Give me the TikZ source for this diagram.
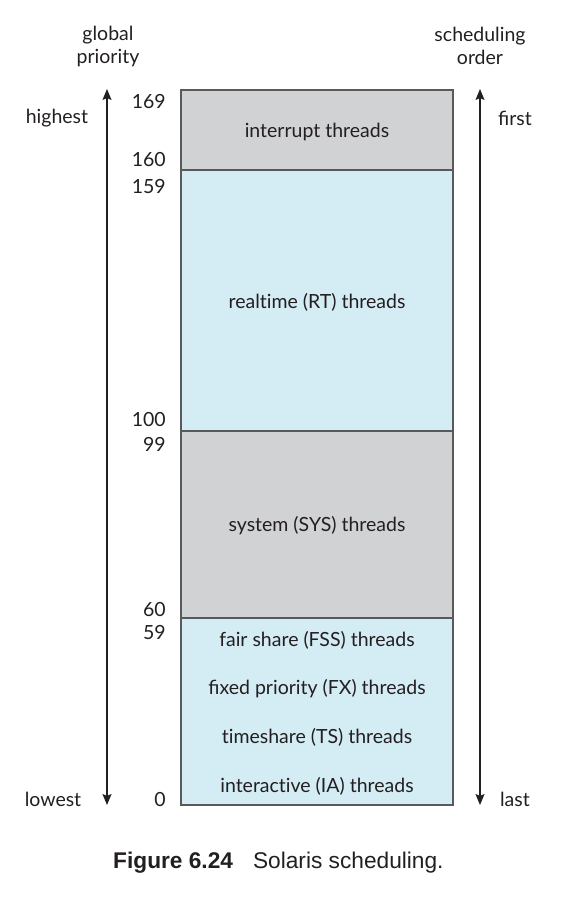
\documentclass[tikz,border=0pt]{standalone}
\usepackage{fontspec}
\setmainfont{Lato}[Ligatures=NoCommon]
\newfontfamily\capfont{Liberation Sans}
\usetikzlibrary{arrows.meta}
\definecolor{grayfill}{HTML}{D1D2D4}
\definecolor{bluefill}{HTML}{D4ECF3}
\definecolor{edge}{HTML}{58595B}
\definecolor{txt}{HTML}{231F20}
\tikzset{
  lbl/.style={font=\fontsize{19.5}{23}\selectfont, text=txt, inner sep=0pt},
  num/.style={lbl, anchor=east},
  band/.style={draw=edge, line width=1.4pt},
  tip/.tip={Stealth[length=11pt,width=9pt,inset=2pt]},
  axis/.style={draw=txt, line width=1.3pt, tip-tip}
}
\begin{document}
\begin{tikzpicture}[x=1pt,y=-1pt]
\useasboundingbox (0,0) rectangle (574,901);
% bands
\draw[band, fill=grayfill] (181,90) rectangle (453,170);
\draw[band, fill=bluefill] (181,170) rectangle (453,431);
\draw[band, fill=grayfill] (181,431) rectangle (453,618);
\draw[band, fill=bluefill] (181,618) rectangle (453,805);
% band labels
\node[lbl] (int) at (317,132) {interrupt threads};
\node[lbl] (rt) at (317,302) {realtime (RT) threads};
\node[lbl] (sys) at (317,526) {system (SYS) threads};
\node[lbl] (fss) at (317,640) {fair share (FSS) threads};
\node[lbl] (fx) at (317,689) {ﬁxed priority (FX) threads};
\node[lbl] (ts) at (317,737) {timeshare (TS) threads};
\node[lbl] (ia) at (317,786) {interactive (IA) threads};
% numbers
\node[num] (n169) at (166,102) {169};
\node[num] (n160) at (166,160) {160};
\node[num] (n159) at (166,187) {159};
\node[num] (n100) at (166,420) {100};
\node[num] (n99) at (166,444) {99};
\node[num] (n60) at (166,610) {60};
\node[num] (n59) at (166,633) {59};
\node[num] (n0) at (166,799) {0};
% headings
\node[lbl, align=center] (gp) at (108,46) {global\\priority};
\node[lbl, align=center] (so) at (480,46) {scheduling\\order};
\node[lbl] (hi) at (57,118) {highest};
\node[lbl] (lo) at (53,799) {lowest};
\node[lbl] (fi) at (515,118) {ﬁrst};
\node[lbl] (la) at (515,799) {last};
% axes
\coordinate (ltop) at (107,89);
\coordinate (lbot) at (107,805);
\coordinate (rtop) at (480,89);
\coordinate (rbot) at (480,805);
\draw[axis] (lbot) -- (ltop);
\draw[axis] (rbot) -- (rtop);
% caption
\node[font=\capfont\fontsize{22.7}{26}\selectfont, text=txt, anchor=west, inner sep=0pt] (cap) at (113,863) {\textbf{Figure 6.24}\hspace{20pt}Solaris scheduling.};
\end{tikzpicture}
\end{document}
